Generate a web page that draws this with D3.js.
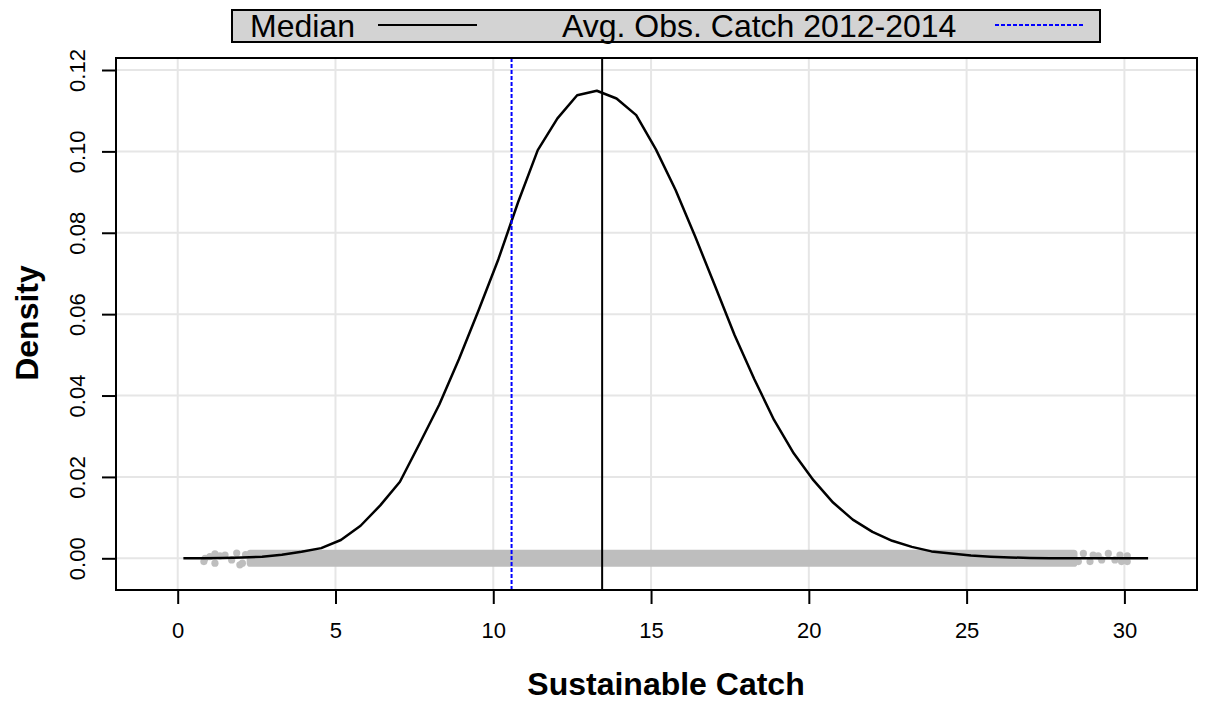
<!DOCTYPE html>
<html><head><meta charset="utf-8">
<script src="https://cdn.jsdelivr.net/npm/d3@7"></script>
<style>
html,body{margin:0;padding:0;background:#fff;}
svg{display:block;font-family:"Liberation Sans",Arial,sans-serif;}
</style></head>
<body><svg id="chart" width="1210" height="702"></svg>
<script>
// ---- data ----
const densityX0 = 0.18, densityStep = 0.6239; // evaluation grid of the density curve
const densityY = [0.0000,0.0000,0.0001,0.0002,0.0004,0.0009,0.0016,0.0025,0.0045,0.0080,
  0.0130,0.0188,0.0282,0.0378,0.0490,0.0610,0.0735,0.0875,0.1003,0.1081,
  0.1138,0.1149,0.1130,0.1089,0.1005,0.0905,0.0790,0.0670,0.0548,0.0440,
  0.0340,0.0258,0.0192,0.0137,0.0095,0.0065,0.0043,0.0028,0.0017,0.0012,
  0.0007,0.0004,0.0002,0.0001,0.0000,0.0000,0.0000,0.0000,0.0000,0.0000];
const densityXs = densityY.map((_, i) => densityX0 + i * densityStep);
const medianValue = 13.45;
const avgObsCatch = 10.58;
const rugCoreRange = [2.3, 28.4];
const rugJitter = 0.0012;
const rugTailX = [0.83,0.87,1.02,1.18,1.18,1.34,1.50,1.71,1.87,1.97,2.05,2.15,
  28.54,28.70,28.91,29.01,29.17,29.28,29.49,29.70,29.86,29.91,30.09,30.09];
const rugTailJ = [-0.0008,0.0000,0.0004,0.0011,-0.0012,0.0006,0.0008,-0.0004,0.0013,-0.0016,-0.0012,0.0009,
  -0.0008,0.0012,-0.0008,0.0008,0.0006,-0.0004,0.0012,-0.0004,0.0008,-0.0008,0.0006,-0.0008];
const xTicks = [0,5,10,15,20,25,30];
const yTicks = [0,0.02,0.04,0.06,0.08,0.10,0.12];
const legendLabels = ["Median","Avg. Obs. Catch 2012-2014"];
const xTitle = "Sustainable Catch", yTitle = "Density";

// ---- layout ----
const svg = d3.select("#chart");
const box = {l:116, t:58, r:1197, b:590};
const x = d3.scaleLinear().domain([0,30]).range([177.7,1124.4]);
const y = d3.scaleLinear().domain([0,0.12]).range([558.3,70]);

// grid
const g = svg.append("g");
g.selectAll(".vg").data(xTicks).join("line")
  .attr("x1",d=>x(d)).attr("x2",d=>x(d)).attr("y1",box.t).attr("y2",box.b)
  .attr("stroke","#e6e6e6").attr("stroke-width",2);
g.selectAll(".hg").data(yTicks).join("line")
  .attr("y1",d=>y(d)).attr("y2",d=>y(d)).attr("x1",box.l).attr("x2",box.r)
  .attr("stroke","#e6e6e6").attr("stroke-width",2);

// rug
const rugR = 3.6;
svg.append("rect")
  .attr("x", x(rugCoreRange[0]) - rugR).attr("width", x(rugCoreRange[1]) - x(rugCoreRange[0]) + 2*rugR)
  .attr("y", y(rugJitter) - rugR).attr("height", y(-rugJitter) - y(rugJitter) + 2*rugR)
  .attr("rx", rugR).attr("fill","#bebebe");
svg.append("g").selectAll("circle").data(rugTailX).join("circle")
  .attr("cx",d=>x(d)).attr("cy",(d,i)=>y(rugTailJ[i])).attr("r",rugR).attr("fill","#bebebe");

// density curve
const line = d3.line().x((d,i)=>x(densityXs[i])).y(d=>y(d));
svg.append("path").datum(densityY).attr("d",line)
  .attr("fill","none").attr("stroke","#000").attr("stroke-width",2.5).attr("stroke-linejoin","round");

// vertical lines
svg.append("line").attr("x1",x(medianValue)).attr("x2",x(medianValue)).attr("y1",box.t).attr("y2",box.b)
  .attr("stroke","#000").attr("stroke-width",2);
svg.append("line").attr("x1",x(avgObsCatch)).attr("x2",x(avgObsCatch)).attr("y1",box.t).attr("y2",box.b)
  .attr("stroke","#0000ff").attr("stroke-width",2).attr("stroke-dasharray","4,2");

// box
svg.append("rect").attr("x",box.l).attr("y",box.t).attr("width",box.r-box.l).attr("height",box.b-box.t)
  .attr("fill","none").attr("stroke","#000").attr("stroke-width",2);

// axes
const xAxis = d3.axisBottom(x).tickValues(xTicks).tickSize(14).tickFormat(d3.format("d"));
const xa = svg.append("g").attr("transform",`translate(0,${box.b})`).call(xAxis);
xa.select(".domain").remove();
xa.selectAll(".tick line").attr("stroke","#000").attr("stroke-width",2);
xa.selectAll(".tick text").attr("font-size",22).attr("fill","#000")
  .attr("font-family","Liberation Sans, Arial, sans-serif").attr("dy",null).attr("y",638-box.b);

const yAxis = d3.axisLeft(y).tickValues(yTicks).tickSize(14).tickFormat(d3.format(".2f"));
const ya = svg.append("g").attr("transform",`translate(${box.l},0)`).call(yAxis);
ya.select(".domain").remove();
ya.selectAll(".tick line").attr("stroke","#000").attr("stroke-width",2);
ya.selectAll(".tick text").attr("font-size",22).attr("fill","#000")
  .attr("font-family","Liberation Sans, Arial, sans-serif")
  .attr("x",null).attr("dy",null)
  .attr("transform",`translate(${85-box.l},0) rotate(-90)`)
  .attr("text-anchor","middle").attr("y",0);

// titles
svg.append("text").attr("x",666).attr("y",695).attr("text-anchor","middle")
  .attr("font-weight","bold").attr("font-size",32).text(xTitle);
svg.append("text").attr("transform","translate(38,323) rotate(-90)").attr("text-anchor","middle")
  .attr("font-weight","bold").attr("font-size",32).text(yTitle);

// legend
const lg = svg.append("g");
lg.append("rect").attr("x",232).attr("y",10).attr("width",868).attr("height",32)
  .attr("fill","#d3d3d3").attr("stroke","#000").attr("stroke-width",2);
lg.append("text").attr("x",250).attr("y",37).attr("font-size",32).text(legendLabels[0]);
lg.append("line").attr("x1",378).attr("x2",477).attr("y1",25).attr("y2",25).attr("stroke","#000").attr("stroke-width",2);
lg.append("text").attr("x",562).attr("y",37).attr("font-size",32).text(legendLabels[1]);
lg.append("line").attr("x1",995).attr("x2",1083).attr("y1",25).attr("y2",25).attr("stroke","#0000ff").attr("stroke-width",2).attr("stroke-dasharray","4,2");
</script></body></html>
